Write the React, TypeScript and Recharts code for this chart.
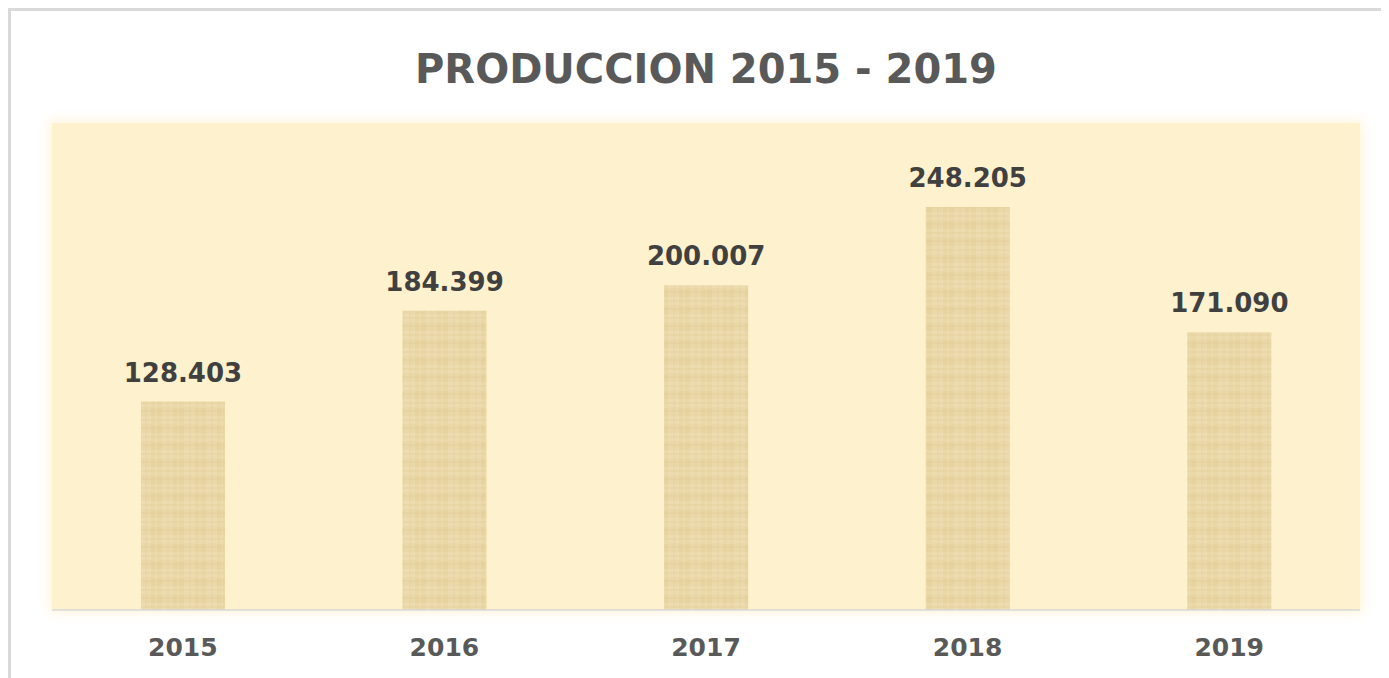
import { Bar, BarChart, CartesianGrid, LabelList, XAxis, YAxis } from "recharts";

const years = ["2015", "2016", "2017", "2018", "2019"];
const produccion = [128.403, 184.399, 200.007, 248.205, 171.09];
const yDomain = [0, 300];

const data = years.map((year, i) => ({ year, value: produccion[i] }));

const FONT = '"DejaVu Sans", sans-serif';

const fmt = (v: number) => v.toFixed(3);

export default function App() {
  return (
    <div style={{ position: "relative", width: 1381, height: 670, background: "#fff", fontFamily: FONT }}>
      {/* outer frame, only top and left edges show in the picture */}
      <div
        style={{
          position: "absolute",
          left: 0,
          top: 0,
          right: 0,
          bottom: 0,
          borderTop: "3px solid #D9D9D9",
          borderLeft: "3px solid #D9D9D9",
          boxSizing: "border-box",
        }}
      />
      {/* soft glow behind plot area */}
      <div
        style={{
          position: "absolute",
          left: 44,
          top: 115,
          width: 1308,
          height: 487,
          background: "#FEF1CE",
          boxShadow: "0 0 10px 3px rgba(254,241,206,0.7)",
        }}
      />
      <div
        style={{
          position: "absolute",
          left: 44,
          top: 41,
          width: 1308,
          textAlign: "center",
          fontSize: 40,
          lineHeight: "40px",
          fontWeight: 700,
          color: "#595959",
        }}
      >
        PRODUCCION 2015 - 2019
      </div>
      <div style={{ position: "absolute", left: 0, top: 0 }}>
        <BarChart
          width={1381}
          height={670}
          data={data}
          margin={{ top: 115, right: 29, left: 44, bottom: 0 }}
          barCategoryGap="34%"
        >
          <defs>
            <pattern id="parchment" width="22" height="17" patternUnits="userSpaceOnUse">
              <rect width="22" height="17" fill="#EAD8A8" />
              <rect x="0" y="0" width="11" height="8" fill="#EEDFB3" fillOpacity="0.7" />
              <rect x="11" y="9" width="11" height="8" fill="#E5D09A" fillOpacity="0.6" />
              <line x1="0" y1="4" x2="22" y2="4" stroke="#D8C08A" strokeOpacity="0.35" strokeWidth="1" />
              <line x1="0" y1="12" x2="22" y2="12" stroke="#D8C08A" strokeOpacity="0.3" strokeWidth="1" />
              <line x1="6" y1="0" x2="6" y2="17" stroke="#D8C08A" strokeOpacity="0.25" strokeWidth="1" />
              <line x1="16" y1="0" x2="16" y2="17" stroke="#F2E4BC" strokeOpacity="0.5" strokeWidth="1" />
            </pattern>
          </defs>
          <CartesianGrid horizontal={false} vertical={false} fill="#FEF1CE" />
          <XAxis
            dataKey="year"
            height={68}
            axisLine={{ stroke: "#D9D9D9", strokeWidth: 1.5 }}
            tickLine={false}
            tickMargin={22}
            tick={{ fill: "#595959", fontSize: 25, fontWeight: 700, fontFamily: FONT }}
          />
          <YAxis hide domain={yDomain} width={0} />
          <Bar dataKey="value" fill="url(#parchment)" isAnimationActive={false}>
            <LabelList
              dataKey="value"
              position="top"
              offset={20}
              formatter={(v: any) => fmt(Number(v))}
              style={{ fill: "#404040", fontSize: 26, fontWeight: 700, fontFamily: FONT }}
            />
          </Bar>
        </BarChart>
      </div>
    </div>
  );
}
